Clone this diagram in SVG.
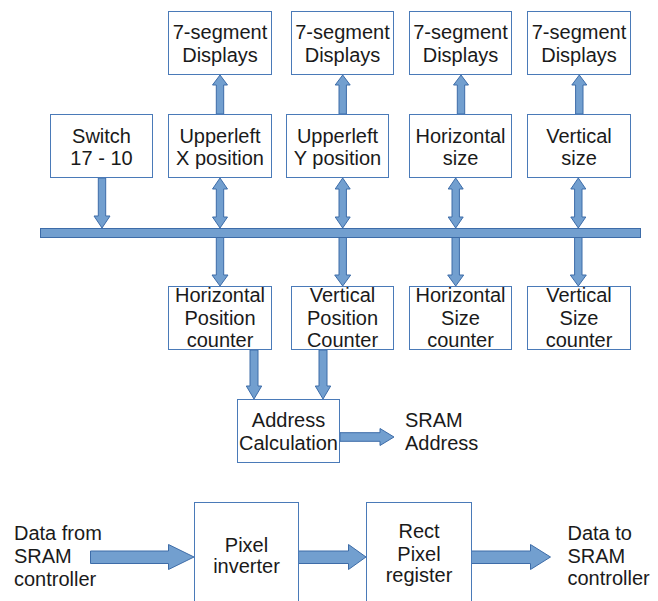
<svg xmlns="http://www.w3.org/2000/svg" width="658" height="601" viewBox="0 0 658 601">
<style>
.box{fill:#fff;stroke:#4a7ab8;stroke-width:1}
.arr{fill:#729fcf;stroke:#3d6ca8;stroke-width:1;stroke-linejoin:miter}
text{font-family:"Liberation Sans",Arial,sans-serif;font-size:20px;fill:#1a1a1a}
.c{text-anchor:middle}
</style>
<rect width="658" height="601" fill="#fff"/>
<g id="connectors">
<rect class="arr" x="40.5" y="228.5" width="600" height="9"/>
<path class="arr" d="M216.3,114 L223.7,114 L223.7,85 L227.5,85 L220,75 L212.5,85 L216.3,85 Z"/>
<path class="arr" d="M339,114 L346.4,114 L346.4,85 L350.2,85 L342.7,75 L335.2,85 L339,85 Z"/>
<path class="arr" d="M457.3,114 L464.7,114 L464.7,85 L468.5,85 L461,75 L453.5,85 L457.3,85 Z"/>
<path class="arr" d="M575.6,114 L583,114 L583,85 L586.8,85 L579.3,75 L571.8,85 L575.6,85 Z"/>
<path class="arr" d="M98.3,178 L105.7,178 L105.7,216 L110,216 L102,228 L94,216 L98.3,216 Z"/>
<path class="arr" d="M220,178 L227.5,189 L223.7,189 L223.7,217 L227.5,217 L220,228 L212.5,217 L216.3,217 L216.3,189 L212.5,189 Z"/>
<path class="arr" d="M342.7,178 L350.2,189 L346.4,189 L346.4,217 L350.2,217 L342.7,228 L335.2,217 L339,217 L339,189 L335.2,189 Z"/>
<path class="arr" d="M455.7,178 L463.2,189 L459.4,189 L459.4,217 L463.2,217 L455.7,228 L448.2,217 L452,217 L452,189 L448.2,189 Z"/>
<path class="arr" d="M578.3,178 L585.8,189 L582,189 L582,217 L585.8,217 L578.3,228 L570.8,217 L574.6,217 L574.6,189 L570.8,189 Z"/>
<path class="arr" d="M216.3,237.5 L223.7,237.5 L223.7,275 L228,275 L220,286 L212,275 L216.3,275 Z"/>
<path class="arr" d="M339,237.5 L346.4,237.5 L346.4,275 L350.7,275 L342.7,286 L334.7,275 L339,275 Z"/>
<path class="arr" d="M452,237.5 L459.4,237.5 L459.4,275 L463.7,275 L455.7,286 L447.7,275 L452,275 Z"/>
<path class="arr" d="M574.6,237.5 L582,237.5 L582,275 L586.3,275 L578.3,286 L570.3,275 L574.6,275 Z"/>
<path class="arr" d="M250,350 L258,350 L258,386 L261.7,386 L254,399 L246.3,386 L250,386 Z"/>
<path class="arr" d="M319,350 L327,350 L327,386 L330.7,386 L323,399 L315.3,386 L319,386 Z"/>
<path class="arr" d="M340,432.7 L380,432.7 L380,428.5 L394,437 L380,445.5 L380,441.3 L340,441.3 Z"/>
<path class="arr" d="M90.5,551 L168.5,551 L168.5,544.5 L194,557 L168.5,569.5 L168.5,563.5 L90.5,563.5 Z"/>
<path class="arr" d="M298.5,551 L348.5,551 L348.5,544.5 L366,557 L348.5,569.5 L348.5,563.5 L298.5,563.5 Z"/>
<path class="arr" d="M471.5,551 L530.5,551 L530.5,544.5 L550.5,557 L530.5,569.5 L530.5,563.5 L471.5,563.5 Z"/>
</g>
<g id="disp1"><rect class="box" x="168.5" y="11.5" width="103" height="63"/><text class="c" x="220" y="38.5">7-segment</text><text class="c" x="220" y="61.5">Displays</text></g>
<g id="disp2"><rect class="box" x="291.5" y="11.5" width="102" height="63"/><text class="c" x="342.5" y="38.5">7-segment</text><text class="c" x="342.5" y="61.5">Displays</text></g>
<g id="disp3"><rect class="box" x="409.5" y="11.5" width="102" height="63"/><text class="c" x="460.5" y="38.5">7-segment</text><text class="c" x="460.5" y="61.5">Displays</text></g>
<g id="disp4"><rect class="box" x="527.5" y="11.5" width="103" height="63"/><text class="c" x="579" y="38.5">7-segment</text><text class="c" x="579" y="61.5">Displays</text></g>
<g id="switch"><rect class="box" x="50.5" y="114.5" width="102" height="63"/><text class="c" x="101.5" y="142.5">Switch</text><text class="c" x="101.5" y="165">17 - 10</text></g>
<g id="upperleftx"><rect class="box" x="168.5" y="114.5" width="103" height="63"/><text class="c" x="220" y="142.5">Upperleft</text><text class="c" x="220" y="165">X position</text></g>
<g id="upperlefty"><rect class="box" x="286.5" y="114.5" width="102" height="63"/><text class="c" x="337.5" y="142.5">Upperleft</text><text class="c" x="337.5" y="165">Y position</text></g>
<g id="hsize"><rect class="box" x="409.5" y="114.5" width="102" height="63"/><text class="c" x="460.5" y="142.5">Horizontal</text><text class="c" x="460.5" y="165">size</text></g>
<g id="vsize"><rect class="box" x="527.5" y="114.5" width="103" height="63"/><text class="c" x="579" y="142.5">Vertical</text><text class="c" x="579" y="165">size</text></g>
<g id="hpc"><rect class="box" x="168.5" y="286.5" width="103" height="63"/><text class="c" x="220" y="301.7">Horizontal</text><text class="c" x="220" y="325">Position</text><text class="c" x="220" y="346.7">counter</text></g>
<g id="vpc"><rect class="box" x="291.5" y="286.5" width="102" height="63"/><text class="c" x="342.5" y="301.7">Vertical</text><text class="c" x="342.5" y="325">Position</text><text class="c" x="342.5" y="346.7">Counter</text></g>
<g id="hsc"><rect class="box" x="409.5" y="286.5" width="102" height="63"/><text class="c" x="460.5" y="301.7">Horizontal</text><text class="c" x="460.5" y="325">Size</text><text class="c" x="460.5" y="346.7">counter</text></g>
<g id="vsc"><rect class="box" x="527.5" y="286.5" width="103" height="63"/><text class="c" x="579" y="301.7">Vertical</text><text class="c" x="579" y="325">Size</text><text class="c" x="579" y="346.7">counter</text></g>
<g id="addr"><rect class="box" x="237.5" y="399.5" width="102" height="63"/><text class="c" x="288.5" y="426.7">Address</text><text class="c" x="288.5" y="450">Calculation</text></g>
<g id="sramaddr"><text x="405" y="427.3">SRAM</text><text x="405" y="450">Address</text></g>
<g id="datafrom"><text x="14" y="540">Data from</text><text x="14" y="563">SRAM</text><text x="14" y="585.5">controller</text></g>
<g id="inverter"><rect class="box" x="194.5" y="502.5" width="104" height="130"/><text class="c" x="246.5" y="551.7">Pixel</text><text class="c" x="246.5" y="573.3">inverter</text></g>
<g id="register"><rect class="box" x="366.5" y="502.5" width="105" height="130"/><text class="c" x="419" y="538.3">Rect</text><text class="c" x="419" y="560.7">Pixel</text><text class="c" x="419" y="582.3">register</text></g>
<g id="datato"><text x="567.5" y="540">Data to</text><text x="567.5" y="562.5">SRAM</text><text x="567.5" y="585">controller</text></g>
</svg>
